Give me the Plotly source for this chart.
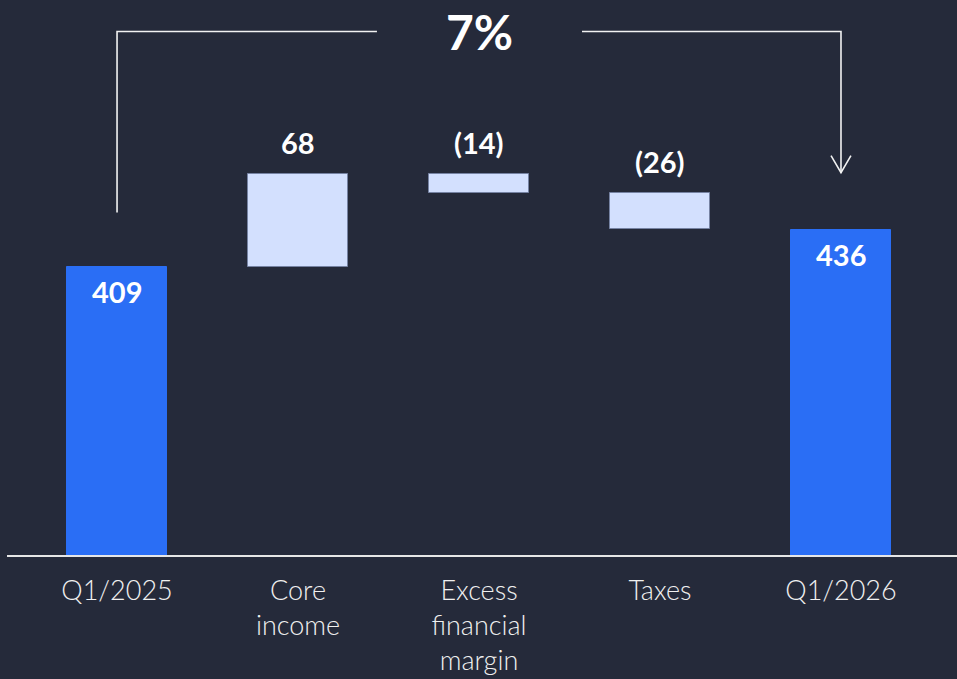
import plotly.graph_objects as go

# Waterfall data: quarter totals and the drivers between them
categories = ["Q1/2025", "Core<br>income", "Excess<br>financial<br>margin", "Taxes", "Q1/2026"]
values = [409, 68, -14, -26, 436]
measures = ["total", "delta", "delta", "delta", "total"]
value_labels = ["409", "68", "(14)", "(26)", "436"]
growth_label = "7%"

BG = "#252a3a"
TOTAL_COLOR = "#2a6ef5"
DELTA_COLOR = "#d3e0fe"
WHITE = "#ffffff"

# Running bases for the floating bars
bases, heights = [], []
running = 0
for m, v in zip(measures, values):
    if m == "total":
        bases.append(0)
        heights.append(v)
        running = v
    else:
        bases.append(running)
        heights.append(v)
        running += v

xs = list(range(len(categories)))
colors = [TOTAL_COLOR if m == "total" else DELTA_COLOR for m in measures]
line_colors = [TOTAL_COLOR if m == "total" else "#7683a3" for m in measures]

fig = go.Figure()
fig.add_trace(go.Bar(
    x=xs, y=heights, base=bases, width=0.555,
    marker=dict(color=colors, line=dict(color=line_colors, width=1)),
    hoverinfo="skip", showlegend=False,
))

annotations = []
for i, (m, b, h, lab) in enumerate(zip(measures, bases, heights, value_labels)):
    if m == "total":
        annotations.append(dict(x=i, y=b + h, text=lab, showarrow=False,
                                yanchor="top", yshift=-5,
                                font=dict(family="Lato", size=29, color=WHITE, weight="bold")))
    else:
        annotations.append(dict(x=i, y=max(b, b + h), text=lab, showarrow=False,
                                yanchor="bottom", yshift=12,
                                font=dict(family="Lato", size=29, color=WHITE, weight="bold")))

# Growth bracket from the first total to the last total
first_i, last_i = 0, len(xs) - 1
top_y = 581
left_bottom = values[first_i] + 40
right_tip = values[last_i] + 42
gap_left, gap_right = 1.436, 2.569
shape_line = dict(color="#f2f2f2", width=1.6)
shapes = [
    dict(type="path", xref="x", yref="y", line=shape_line,
         path=f"M {first_i},{left_bottom} L {first_i},{top_y} L {gap_left},{top_y}"),
    dict(type="path", xref="x", yref="y", line=shape_line,
         path=f"M {gap_right},{top_y} L {last_i},{top_y} L {last_i},{right_tip}"),
    dict(type="path", xref="x", yref="y", line=shape_line,
         path=f"M {last_i - 0.055},{right_tip + 12.5} L {last_i},{right_tip} L {last_i + 0.055},{right_tip + 12.5}"),
]
annotations.append(dict(x=(first_i + last_i) / 2, y=top_y, text=growth_label, showarrow=False,
                        yanchor="middle", font=dict(family="Lato", size=48, color=WHITE, weight="bold")))

fig.update_layout(
    width=957, height=679,
    paper_bgcolor=BG, plot_bgcolor=BG,
    margin=dict(l=7, r=0, t=0, b=124),
    xaxis=dict(range=[-0.608, 4.641], tickvals=xs, ticktext=categories,
               showgrid=False, zeroline=False, showline=True, linecolor="#e6e6e6", linewidth=1.5,
               ticks="", ticklabelstandoff=11,
               tickfont=dict(family="Lato", size=27, color="#f0f0f0", weight=300)),
    yaxis=dict(range=[199, 604], visible=False, showgrid=False, zeroline=False),
    annotations=annotations, shapes=shapes,
    bargap=0,
)

fig.write_html("out.html")
